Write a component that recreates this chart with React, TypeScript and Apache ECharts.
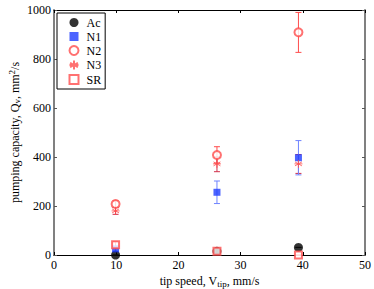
import React, { useEffect, useRef } from "react";
import * as echarts from "echarts";

const xVals = [9.9, 26.2, 39.3];
const acVals = [0, 15, 31];
const n1Vals = [25, 256, 397];
const n2Vals = [208, 408, 909];
const n3Vals = [180, 372, 372];
const srVals = [42, 15, 0];

const n1Low = [15, 210, 327];
const n1High = [35, 302, 467];
const n2Low = [196, 375, 827];
const n2High = [222, 442, 990];
const n3Low = [166, 340, 333];
const n3High = [194, 400, 410];
const acLow = [0, 6, 31];
const acHigh = [0, 25, 31];
const srLow = [32, 8, 0];
const srHigh = [54, 22, 0];

const RED = "#ff4d4d";
const BLUE = "#1f3dff";
const FONT = "'Liberation Serif', 'Times New Roman', serif";

const STAR =
  "path://M0,-10 L0,10 M-8.66,-5 L8.66,5 M-8.66,5 L8.66,-5 M-10,0 L10,0";

function errSeries(name: string, low: number[], high: number[], color: string) {
  return {
    type: "custom",
    name: name + "_err",
    silent: true,
    data: xVals.map((x, i) => [x, low[i], high[i]]),
    renderItem: (params: any, api: any) => {
      const x = api.value(0);
      const lo = api.coord([x, api.value(1)]);
      const hi = api.coord([x, api.value(2)]);
      const w = 3;
      const style = { stroke: color, lineWidth: 1 };
      return {
        type: "group",
        children: [
          { type: "line", shape: { x1: lo[0], y1: lo[1], x2: hi[0], y2: hi[1] }, style },
          { type: "line", shape: { x1: lo[0] - w, y1: lo[1], x2: lo[0] + w, y2: lo[1] }, style },
          { type: "line", shape: { x1: hi[0] - w, y1: hi[1], x2: hi[0] + w, y2: hi[1] }, style },
        ],
      };
    },
    z: 1,
  };
}

export default function App() {
  const ref = useRef<HTMLDivElement>(null);
  useEffect(() => {
    const chart = echarts.init(ref.current!, null, { renderer: "svg" });
    const pts = (v: number[]) => xVals.map((x, i) => [x, v[i]]);
    const fmt = (v: number) => String(v);
    chart.setOption({
      animation: false,
      textStyle: { fontFamily: FONT },
      grid: { left: 54, right: 9, top: 10, bottom: 34, outerBoundsMode: "none", containLabel: false },
      legend: {
        orient: "vertical",
        left: 57,
        top: 13,
        padding: [3, 4, 3, 10],
        itemGap: 1,
        itemWidth: 9,
        itemHeight: 9,
        borderColor: "#000",
        borderWidth: 1,
        borderRadius: 0,
        backgroundColor: "#fff",
        textStyle: { fontFamily: FONT, fontSize: 12, color: "#000", lineHeight: 13, padding: [0, 0, 0, 3] },
        data: ["Ac", "N1", "N2", "N3", "SR"],
      },
      xAxis: [
        {
          type: "value",
          min: 0,
          max: 50,
          interval: 10,
          position: "bottom",
          name: "{n|tip speed, V}{sub|tip}{n|, mm/s}",
          nameLocation: "middle",
          nameGap: 18,
          nameMoveOverlap: false,
          nameTextStyle: {
            rich: {
              n: { fontFamily: FONT, fontSize: 12, color: "#000" },
              sub: { fontFamily: FONT, fontSize: 9, color: "#000", padding: [6, 0, 0, 0] },
            },
          },
          axisLine: { onZero: false, lineStyle: { color: "#000", width: 1 } },
          axisTick: { inside: true, length: 3, lineStyle: { color: "#000" } },
          axisLabel: { fontFamily: FONT, fontSize: 12, color: "#000", margin: 4, formatter: fmt },
          splitLine: { show: false },
        },
        {
          type: "value",
          min: 0,
          max: 50,
          interval: 10,
          position: "top",
          axisLine: { show: true, onZero: false, lineStyle: { color: "#000", width: 1 } },
          axisTick: { show: true, inside: true, length: 3, lineStyle: { color: "#000" } },
          axisLabel: { show: false },
          splitLine: { show: false },
        },
      ],
      yAxis: [
        {
          type: "value",
          min: 0,
          max: 1000,
          interval: 200,
          position: "left",
          name: "{n|pumping capacity, Q}{sub|v}{n|, mm}{sup|2}{n|/s}",
          nameLocation: "middle",
          nameGap: 32,
          nameMoveOverlap: false,
          nameTextStyle: {
            rich: {
              n: { fontFamily: FONT, fontSize: 12, color: "#000" },
              sub: { fontFamily: FONT, fontSize: 9, color: "#000", padding: [5, 0, 0, 0] },
              sup: { fontFamily: FONT, fontSize: 9, color: "#000", padding: [0, 0, 6, 0] },
            },
          },
          axisLine: { show: true, onZero: false, lineStyle: { color: "#808080", width: 2 } },
          axisTick: { show: true, inside: true, length: 3, lineStyle: { color: "#555" } },
          axisLabel: { fontFamily: FONT, fontSize: 12, color: "#000", margin: 3, formatter: fmt },
          splitLine: { show: false },
        },
        {
          type: "value",
          min: 0,
          max: 1000,
          interval: 200,
          position: "right",
          axisLine: { show: true, onZero: false, lineStyle: { color: "#808080", width: 2 } },
          axisTick: { show: true, inside: true, length: 3, lineStyle: { color: "#555" } },
          axisLabel: { show: false },
          splitLine: { show: false },
        },
      ],
      series: [
        errSeries("N2", n2Low, n2High, RED),
        errSeries("N3", n3Low, n3High, "#d0304a"),
        errSeries("N1", n1Low, n1High, "#6f84ff"),
        errSeries("Ac", acLow, acHigh, "#333"),
        errSeries("SR", srLow, srHigh, RED),
        {
          name: "Ac",
          type: "scatter",
          data: pts(acVals),
          symbol: "circle",
          symbolSize: 9,
          itemStyle: { color: "#000" },
          z: 3,
        },
        {
          name: "N1",
          type: "scatter",
          data: pts(n1Vals),
          symbol: "rect",
          symbolSize: 7,
          itemStyle: { color: BLUE },
          z: 3,
        },
        {
          name: "N2",
          type: "scatter",
          data: pts(n2Vals),
          symbol: "emptyCircle",
          symbolSize: 8,
          itemStyle: { color: RED, borderColor: RED, borderWidth: 1 },
          z: 3,
        },
        {
          name: "N3",
          type: "scatter",
          data: pts(n3Vals),
          symbol: STAR,
          symbolSize: 8,
          itemStyle: { color: "none", borderColor: RED, borderWidth: 1 },
          z: 3,
        },
        {
          name: "SR",
          type: "scatter",
          data: pts(srVals),
          symbol: "emptyRect",
          symbolSize: 7,
          itemStyle: { color: RED, borderColor: RED, borderWidth: 1 },
          z: 3,
        },
      ],
    });
    return () => chart.dispose();
  }, []);
  return <div ref={ref} style={{ width: 374, height: 289, position: "absolute", left: 0, top: 0 }} />;
}
